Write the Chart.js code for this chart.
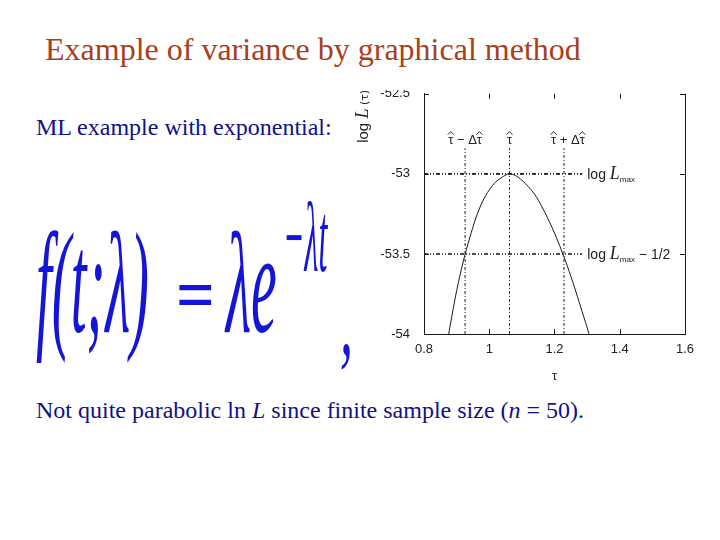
<!DOCTYPE html>
<html>
<head>
<meta charset="utf-8">
<script src="https://cdn.jsdelivr.net/npm/chart.js@4.4.1/dist/chart.umd.min.js"></script>
<style>
  html, body { margin: 0; padding: 0; background: #fff; }
  .slide { position: relative; width: 720px; height: 540px; overflow: hidden; font-family: "Liberation Serif", "Times New Roman", serif; }
  .title { position: absolute; left: 45px; top: 31px; font-size: 32px; color: #a8401c; white-space: nowrap; }
  .txt { position: absolute; font-size: 24px; color: #10108a; white-space: nowrap; }
  .fx { position: absolute; color: #1515d8; font-family: "Liberation Serif", serif; font-style: italic; white-space: nowrap; transform-origin: 0 0; line-height: 1; }
  .plotbox { position: absolute; left: 350px; top: 90px; width: 360px; height: 300px; overflow: hidden; }
  .plotbox canvas { position: absolute; left: 0; top: -18px; }
</style>
</head>
<body>
<div class="slide">
  <div class="title">Example of variance by graphical method</div>
  <div class="txt" style="left:36px; top:114px;">ML example with exponential:</div>

  <!-- formula, stretched like the picture on the slide -->
  <div class="fx" style="left:36px; top:212px; font-size:58px; transform:scale(0.98,2.5);">f(t;λ)</div>
  <div class="fx" style="left:176px; top:258px; font-size:62px; font-style:normal; font-weight:bold; transform:scale(1.1,1.2);">=</div>
  <div class="fx" style="left:226px; top:212px; font-size:58px; transform:scale(1,2.5);">λe</div>
  <div class="fx" style="left:283px; top:188px; font-size:40px; transform:scale(0.8,2.5);">−λt</div>
  <div class="fx" style="left:340px; top:272px; font-size:58px; transform:scale(0.9,1.7);">,</div>

  <div class="txt" style="left:36px; top:397px;">Not quite parabolic ln <i>L</i> since finite sample size (<i>n</i> = 50).</div>

  <div class="plotbox"><canvas id="c" width="360" height="318"></canvas></div>
</div>

<script>
// log-likelihood curve
const tau  = [0.86, 0.87, 0.88, 0.90, 0.92, 0.94, 0.96, 0.98, 1.00, 1.02, 1.04, 1.06, 1.08, 1.10, 1.12, 1.14, 1.16, 1.18, 1.20, 1.22, 1.24, 1.26, 1.28, 1.30, 1.32];
const logL = [-54.19, -54.07, -53.95, -53.73, -53.55, -53.40, -53.27, -53.17, -53.10, -53.05, -53.02, -53.00, -53.01, -53.04, -53.08, -53.13, -53.20, -53.28, -53.37, -53.47, -53.58, -53.70, -53.83, -53.96, -54.10];

// estimate and interval
const tauHat = 1.062;
const tauLow = 0.926;
const tauHigh = 1.229;
const logLmax = -53;
const logLhalf = -53.5;
const lineTop = -52.84;   // where the vertical markers stop
const lineEnd = 1.285;    // where the horizontal markers stop

const xTicks = [0.8, 1, 1.2, 1.4, 1.6];
const yTicks = [-54, -53.5, -53, -52.5];

const ink = '#1a1a1a';

function pts(xs, ys) { return xs.map((x, i) => ({ x: x, y: ys[i] })); }

// draw text made of several differently styled parts; hat:true puts a circumflex over the part
function richText(ctx, parts, x, y, align) {
  let w = 0;
  parts.forEach(p => { ctx.font = p.font; w += ctx.measureText(p.t).width; });
  let cx = align === 'center' ? x - w / 2 : x;
  ctx.textAlign = 'left';
  ctx.textBaseline = 'alphabetic';
  parts.forEach(p => {
    ctx.font = p.font;
    const pw = ctx.measureText(p.t).width;
    ctx.fillText(p.t, cx, y + (p.dy || 0));
    if (p.hat) {
      const m = cx + pw / 2;
      ctx.beginPath();
      ctx.moveTo(m - 3, y - 9);
      ctx.lineTo(m, y - 12);
      ctx.lineTo(m + 3, y - 9);
      ctx.lineWidth = 1;
      ctx.strokeStyle = ctx.fillStyle;
      ctx.stroke();
    }
    cx += pw;
  });
}

const sans = s => s + 'px "Liberation Sans", Arial, sans-serif';
const dv = s => s + 'px "DejaVu Sans", sans-serif';
const ital = s => 'italic ' + s + 'px "Liberation Serif", serif';

const frame = {
  id: 'frame',
  afterDraw(chart) {
    const { ctx, chartArea: a, scales: { x, y } } = chart;
    ctx.save();
    ctx.strokeStyle = ink;
    ctx.lineWidth = 1;
    // right border
    ctx.beginPath();
    ctx.moveTo(Math.round(a.right) + 0.5, a.top);
    ctx.lineTo(Math.round(a.right) + 0.5, a.bottom);
    ctx.stroke();
    // inward ticks
    ctx.beginPath();
    xTicks.forEach(v => {
      const px = Math.round(x.getPixelForValue(v)) + 0.5;
      ctx.moveTo(px, a.bottom); ctx.lineTo(px, a.bottom - 5);
      ctx.moveTo(px, a.top); ctx.lineTo(px, a.top + 5);
    });
    yTicks.forEach(v => {
      const py = Math.round(y.getPixelForValue(v)) + 0.5;
      ctx.moveTo(a.left, py); ctx.lineTo(a.left + 5, py);
      ctx.moveTo(a.right, py); ctx.lineTo(a.right - 5, py);
    });
    ctx.stroke();

    ctx.fillStyle = '#222';
    // labels over the vertical markers
    const ty = y.getPixelForValue(-52.78) + 5;
    const f = sans(13);
    richText(ctx, [{ t: 'τ', font: f, hat: true }, { t: ' − Δ', font: f }, { t: 'τ', font: f, hat: true }],
             x.getPixelForValue(tauLow), ty, 'center');
    richText(ctx, [{ t: 'τ', font: f, hat: true }], x.getPixelForValue(tauHat), ty, 'center');
    richText(ctx, [{ t: 'τ', font: f, hat: true }, { t: ' + Δ', font: f }, { t: 'τ', font: f, hat: true }],
             x.getPixelForValue(tauHigh) + 4, ty, 'center');

    // labels at the end of the horizontal markers
    const lx = x.getPixelForValue(lineEnd) + 5;
    richText(ctx, [
      { t: 'log ', font: sans(14) }, { t: 'L', font: ital(18) }, { t: 'max', font: sans(8), dy: 3 }
    ], lx, y.getPixelForValue(logLmax) + 5);
    richText(ctx, [
      { t: 'log ', font: sans(14) }, { t: 'L', font: ital(18) }, { t: 'max', font: sans(8), dy: 3 },
      { t: ' − 1/2', font: sans(14) }
    ], lx, y.getPixelForValue(logLhalf) + 5);

    // y axis title, rotated, near the top of the axis
    ctx.translate(a.left - 56, a.top + 49);
    ctx.rotate(-Math.PI / 2);
    richText(ctx, [
      { t: 'log ', font: sans(15) }, { t: 'L', font: ital(18) }, { t: ' (τ)', font: dv(11) }
    ], 0, 0);
    ctx.restore();
  }
};

new Chart(document.getElementById('c'), {
  type: 'scatter',
  data: {
    datasets: [
      {
        data: pts(tau, logL), showLine: true, pointRadius: 0,
        borderColor: ink, borderWidth: 1, tension: 0.3
      },
      {
        data: pts([0.8, lineEnd], [logLmax, logLmax]), showLine: true, pointRadius: 0,
        borderColor: ink, borderWidth: 1.6, borderDash: [4, 2, 1, 2, 1, 2]
      },
      {
        data: pts([0.8, lineEnd], [logLhalf, logLhalf]), showLine: true, pointRadius: 0,
        borderColor: ink, borderWidth: 1.6, borderDash: [4, 2, 1, 2, 1, 2]
      },
      {
        data: pts([tauLow, tauLow], [-54, lineTop]), showLine: true, pointRadius: 0,
        borderColor: ink, borderWidth: 1, borderDash: [3, 2, 1, 2]
      },
      {
        data: pts([tauHat, tauHat], [-54, lineTop]), showLine: true, pointRadius: 0,
        borderColor: ink, borderWidth: 1, borderDash: [3, 2, 1, 2]
      },
      {
        data: pts([tauHigh, tauHigh], [-54, lineTop]), showLine: true, pointRadius: 0,
        borderColor: ink, borderWidth: 1, borderDash: [3, 2, 1, 2]
      }
    ]
  },
  options: {
    responsive: false,
    animation: false,
    devicePixelRatio: 1,
    layout: { padding: { top: 5, right: 25, left: 0, bottom: 0 } },
    plugins: { legend: { display: false }, tooltip: { enabled: false } },
    scales: {
      x: {
        type: 'linear', min: 0.8, max: 1.6,
        afterBuildTicks: s => { s.ticks = xTicks.map(v => ({ value: v })); },
        afterFit: s => { s.height = 56; },
        grid: { display: true, drawOnChartArea: false, drawTicks: false },
        border: { display: true, color: ink, width: 1 },
        ticks: { padding: 8, color: '#222', font: { family: '"Liberation Sans", Arial, sans-serif', size: 13 },
                 callback: v => String(Math.round(v * 10) / 10) },
        title: { display: true, text: 'τ', color: '#222', padding: { top: 0, bottom: 6 },
                 font: { family: '"Liberation Sans", Arial, sans-serif', size: 13 } }
      },
      y: {
        type: 'linear', min: -54, max: -52.5,
        afterBuildTicks: s => { s.ticks = yTicks.map(v => ({ value: v })); },
        afterFit: s => { s.width = 74; },
        grid: { display: true, drawOnChartArea: false, drawTicks: false },
        border: { display: true, color: ink, width: 1 },
        ticks: { padding: 14, color: '#222', font: { family: '"Liberation Sans", Arial, sans-serif', size: 13 },
                 callback: v => String(v) }
      }
    }
  },
  plugins: [frame]
});
</script>
</body>
</html>
